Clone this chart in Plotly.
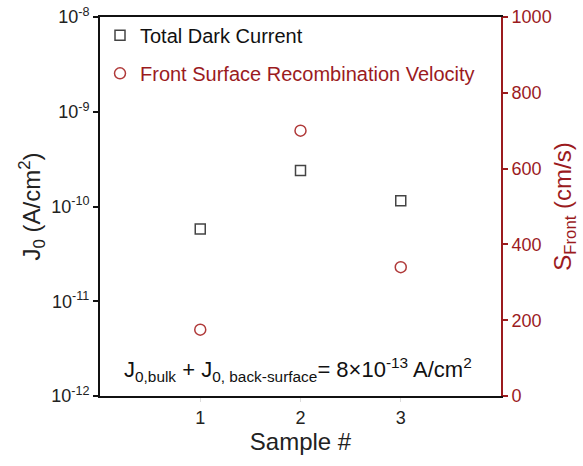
import plotly.graph_objects as go

# ── Data ──
samples = [1, 2, 3]
dark_current = [5.8e-11, 2.4e-10, 1.15e-10]      # A/cm^2 (left, log axis)
s_front = [175, 700, 340]                          # cm/s (right axis)

j0_tickvals = [1e-12, 1e-11, 1e-10, 1e-9, 1e-8]
j0_ticktext = ["10<sup>-12</sup>", "10<sup>-11</sup>", "10<sup>-10</sup>",
               "10<sup>-9</sup>", "10<sup>-8</sup>"]
s_tickvals = [0, 200, 400, 600, 800, 1000]

RED = "#9B1B1E"
FONT = "Liberation Sans, Arial, sans-serif"

fig = go.Figure()

fig.add_trace(go.Scatter(
    x=samples, y=dark_current,
    mode="markers", name="Total Dark Current",
    marker=dict(symbol="square-open", size=10, color="#444444", line=dict(width=1.5)),
    legendgroup="a",
))
fig.add_trace(go.Scatter(
    x=samples, y=s_front, yaxis="y2",
    mode="markers",
    name=f"<span style='color:{RED}'>Front Surface Recombination Velocity</span>",
    marker=dict(symbol="circle-open", size=11, color="#B03A3A", line=dict(width=1.5)),
    legendgroup="b",
))

fig.add_annotation(
    xref="paper", yref="paper", x=0.494, y=0.025, xanchor="center", yanchor="bottom",
    text="J<sub>0,bulk</sub> + J<sub>0, back-surface</sub>= 8×10<sup>-13</sup> A/cm<sup>2</sup>",
    showarrow=False, font=dict(size=22, color="#111111", family=FONT),
)

fig.update_layout(
    width=583, height=466,
    margin=dict(l=100, r=82, t=17, b=70),
    paper_bgcolor="white", plot_bgcolor="white",
    font=dict(family=FONT, color="#222222", size=18),
    showlegend=True,
    legend=dict(
        x=0.0, y=1.003, xanchor="left", yanchor="top",
        bgcolor="rgba(0,0,0,0)", font=dict(size=20, color="#111111"),
        tracegroupgap=9, itemwidth=30,
    ),
    xaxis=dict(
        range=[0, 4], tickvals=samples, ticks="outside", ticklen=4,
        tickcolor="#dddddd", showgrid=False, zeroline=False,
        showline=True, linecolor="#111111", linewidth=2, mirror=True,
        automargin=False, ticklabeloverflow="allow",
        title=dict(text="Sample #", font=dict(size=24, color="#222222"), standoff=6),
        tickfont=dict(size=18),
    ),
    yaxis=dict(
        type="log", range=[-12, -8],
        tickvals=j0_tickvals, ticktext=j0_ticktext,
        ticks="outside", ticklen=5, tickwidth=2, tickcolor="#111111",
        showgrid=False, zeroline=False, automargin=False, ticklabeloverflow="allow",
        showline=True, linecolor="#111111", linewidth=2,
        title=dict(text="J<sub>0</sub> (A/cm<sup>2</sup>)", font=dict(size=24, color="#222222"), standoff=4),
        tickfont=dict(size=18),
    ),
    yaxis2=dict(
        overlaying="y", side="right", range=[0, 1000],
        tickvals=s_tickvals, ticks="outside", ticklen=5, tickwidth=2, tickcolor=RED,
        showgrid=False, zeroline=False, automargin=False, ticklabeloverflow="allow",
        showline=True, linecolor=RED, linewidth=2,
        title=dict(text="S<sub>Front</sub> (cm/s)", font=dict(size=24, color=RED), standoff=4),
        tickfont=dict(size=18, color=RED),
    ),
)

# drop the default page margin so the figure fills the window exactly
fig.write_html(
    "out.html",
    config={"displayModeBar": False},
    post_script="document.body.style.margin='0px';",
)
